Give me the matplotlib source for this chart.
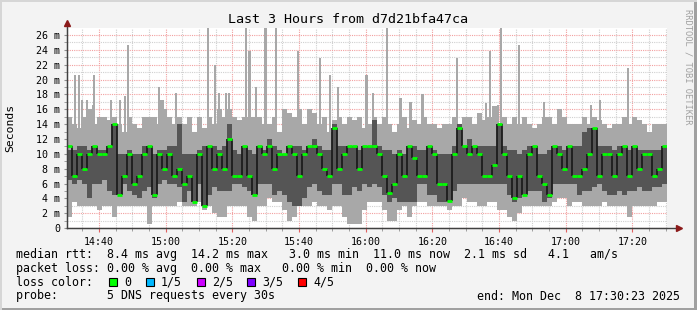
#SmokePing style latency graph

import matplotlib.pyplot as plt
from matplotlib.patches import Rectangle
import numpy as np

plt.rcParams['font.family'] = ['DejaVu Sans Mono']

#Data (ms), one value per 90 s step

hi = [15, 14, 13.5, 15, 16, 14, 15, 15, 14.5, 15, 14, 13, 15, 14, 13.5, 15, 15, 15, 14, 16,
      15, 14, 15, 14, 15, 13, 15, 13.5, 15, 14, 16, 15, 16, 15, 14.5, 15, 15, 15, 15, 14,
      14, 15, 13, 16, 15.5, 15, 16, 14, 16, 15.5, 14, 15, 13, 14.5, 15, 14, 15, 14.5, 15, 13.5,
      14, 15, 14, 15, 14, 13, 14, 15, 13.5, 14.5, 14, 15, 14, 14, 13.5, 14, 14, 15, 14, 15,
      15, 14, 15.5, 14.5, 15, 16.5, 14, 15, 14, 15, 14, 15, 14, 13.5, 14, 15, 15, 14, 16, 15,
      14, 14, 14, 15, 14, 15, 14.5, 14, 13.5, 14, 14, 15, 14, 15, 14.5, 14, 13, 14, 14, 14]
lo = [1.5, 3.5, 3, 3, 3, 3, 2.5, 3, 3, 1.5, 3, 3, 3, 3, 3, 3, 0.5, 3, 3, 3,
      3, 3, 3.5, 3, 3, 3, 3.5, 2.5, 3, 2, 1.5, 1.5, 3, 3, 3, 3, 1.5, 1, 3, 3,
      4, 3.5, 3.5, 2.5, 1, 1.5, 3, 3, 3, 3.5, 3, 3, 2.5, 3, 3, 1.5, 0.5, 0.5, 0.5, 2.5,
      3.5, 3.5, 3.5, 2.5, 1, 1, 2.5, 3, 1.5, 3, 3.5, 3.5, 3, 3, 3, 3, 2.5, 3, 3, 4,
      3.5, 3.5, 3, 3, 3.5, 3.5, 2.5, 2.5, 1.5, 1, 2, 3, 3, 3, 3, 3, 3, 3.5, 4, 4,
      3, 3.5, 3.5, 3, 3, 3, 3, 3.5, 3, 3, 3, 3, 1.5, 3, 3, 3, 3, 3, 3.5, 3.5]
q1 = [6.5, 6, 6.5, 6, 4, 6, 6, 6.5, 5, 4.5, 4.5, 6, 5, 4.5, 4, 5, 5.5, 4, 6, 6.5,
      6, 6, 5.5, 3.5, 5, 3.5, 6, 3, 4.5, 5.5, 5, 5, 5, 6, 6, 5.5, 5, 4.5, 6, 6,
      6, 4.5, 5, 4.5, 3.5, 3, 3, 4, 5.5, 6, 5, 4.5, 4.5, 6, 6, 4.5, 4.5, 5.5, 5, 6,
      5.5, 6, 5.5, 4.5, 3.5, 4, 3.5, 3.5, 3.5, 3.5, 6, 6, 4.5, 4.5, 3.5, 3.5, 3.5, 5, 6, 6,
      6, 6, 6, 6, 6, 6, 6, 6, 4.5, 3.5, 4, 4.5, 5, 5, 5, 3.5, 4, 6, 6, 6,
      6, 6, 4.5, 5, 5, 5.5, 6, 5, 4.5, 4.5, 5, 4.5, 5, 5, 5.5, 5, 5, 5.5, 5.5, 6]
q3 = [10.5, 10.5, 11, 11, 10.5, 11, 10.5, 10.5, 11, 14, 10, 10, 10.5, 10, 10, 11, 11, 10, 10.5, 10.5,
      11, 11, 14, 10, 10, 10, 10.5, 11, 11, 11, 10.5, 11, 14, 10.5, 10, 11, 10.5, 10, 11, 10.5,
      12, 11, 10.5, 10, 11, 11, 11, 10.5, 11, 12, 11, 10.5, 10.5, 14, 11, 11, 11, 11, 10.5, 11,
      11, 14.5, 11, 10.5, 10.5, 10, 10.5, 10, 11, 11, 10.5, 10.5, 11, 10.5, 10, 10, 10, 11, 14, 11,
      12, 11, 11, 11, 11, 11, 14, 11, 10.5, 10.5, 10, 10.5, 11, 11, 10, 10, 10.5, 11, 11, 10.5,
      11, 11, 11, 13, 13.5, 13.5, 11, 11, 11, 10.5, 11, 11, 10.5, 11, 10.5, 10.5, 10.5, 10.5, 10.5, 11]
med = [11, 7, 10, 8, 10, 11, 10, 10, 11, 14, 4.5, 7, 10, 6, 7, 10, 11, 4.5, 10, 8,
       10, 7, 8, 6, 7, 3.5, 10, 3, 11, 8, 10, 8, 12, 7, 7, 11, 7, 4.5, 11, 10,
       11, 8, 10, 10, 11, 10, 7, 10, 11, 11, 10, 8, 7, 13.5, 8, 10, 11, 11, 8, 11,
       11, 11, 10, 7, 4.8, 6, 10, 7, 11, 9.5, 7, 7, 11, 10, 6, 6, 3.7, 10, 13.5, 11,
       10, 11, 10, 7, 7, 8.5, 14, 10, 7, 4, 7, 4.5, 10, 11, 7, 6, 4.5, 11, 10, 8,
       11, 7, 7, 8, 10, 13.5, 7, 10, 10, 7, 10, 11, 7, 11, 8, 10, 10, 7, 8, 11]

#Single slow pings (minutes after 14:00, ms)
spike_t = [32.8, 34.0, 34.9, 36.4, 38.2, 38.5, 43.6, 46.3, 47.8, 48.7,
           58.0, 58.6, 59.2, 63.1, 72.7, 74.8, 76.0, 78.1, 79.0, 84.1, 85.1, 87.1,
           89.9, 93.1, 99.7, 106.3, 109.3, 111.7, 120.2, 122.2, 126.4, 130.5, 133.4, 137.0,
           147.4, 156.1, 157.3, 159.7, 160.6, 166.0, 173.5, 187.6, 190.3, 198.7]
spike_v = [20.6, 20.6, 17.3, 17.3, 16.6, 20.6, 17.3, 17.3, 17.8, 24.6,
           19.0, 17.3, 17.3, 18.2, 27, 22, 18.2, 18.2, 18.2, 27, 23.8, 19,
           27, 27, 23.8, 22.9, 20.6, 19, 20.6, 18.2, 27, 17.5, 17, 18,
           22.9, 16.8, 23.8, 16.6, 27, 24.6, 17, 16.6, 17.3, 21.5]

xticks = [40, 60, 80, 100, 120, 140, 160, 180, 200]   # minutes after 14:00
xlabels = ['14:40', '15:00', '15:20', '15:40', '16:00', '16:20', '16:40', '17:00', '17:20']
loss_names = ['0', '1/5', '2/5', '3/5', '4/5']
loss_colors = ['#00ff00', '#00b8ff', '#cc00ff', '#7e00ff', '#ff0000']

hi, lo, q1, q3, med = [np.array(a, float) for a in (hi, lo, q1, q3, med)]
step = 1.5
t0 = 30 + 23/60.
left = t0 + step*np.arange(len(med))

fig = plt.figure(figsize=(6.97, 3.10), dpi=100, facecolor='#f3f3f3')
ax = fig.add_axes([67/697, 1-228.2/310, 600/697, 200.2/310])
ax.set_facecolor('white')

#Smoke
ax.bar(spike_t, np.array(spike_v)-10, bottom=10, width=0.8, color='#a8a8a8', lw=0, zorder=2)
ax.bar(left, hi-lo, bottom=lo, width=step, align='edge', color='#a8a8a8', lw=0, zorder=2)
ax.bar(left, q3-q1, bottom=q1, width=step, align='edge', color='#555555', lw=0, zorder=3)
ax.vlines(left[1:], np.minimum(med[:-1], med[1:]), np.maximum(med[:-1], med[1:]),
          color='#1c1c1c', lw=1.3, zorder=4)
ax.hlines(med, left, left+step, color='#00ff00', lw=2.0, zorder=5)

ax.set_xlim(t0, t0+180)
ax.set_ylim(0, 26.95)

#Grid
ax.set_xticks(xticks)
ax.set_xticklabels(xlabels, fontsize=7.2)
ax.set_xticks(np.arange(35, 211, 5), minor=True)
ax.set_yticks(np.arange(0, 27, 2))
ax.set_yticklabels(['0'] + ['%d m' % v for v in range(2, 27, 2)], fontsize=7.2)
ax.set_yticks(np.arange(0, 27, 1), minor=True)
ax.grid(which='minor', color='#d0d0d0', ls=(0, (1, 1)), lw=0.8)
ax.grid(which='major', color='#f2a0a0', ls=(0, (1, 1)), lw=0.8)
ax.set_axisbelow(True)
ax.tick_params(which='both', direction='out', length=2, color='#909090', pad=3)
ax.tick_params(axis='x', which='major', colors='#000000', color='#e06060', length=3)

for s in ['top', 'right']:
    ax.spines[s].set_visible(False)
for s in ['left', 'bottom']:
    ax.spines[s].set_color('#404040')

#Axis arrows
ax.plot([0, 0], [0, 1.03], transform=ax.transAxes, clip_on=False, color='#404040', lw=1, zorder=6)
ax.plot([0, 1.022], [0, 0], transform=ax.transAxes, clip_on=False, color='#404040', lw=1, zorder=6)
ax.plot(0, 1.025, marker='^', ms=4.5, color='#8b1a1a', transform=ax.transAxes, clip_on=False, zorder=7)
ax.plot(1.02, 0, marker='>', ms=4.5, color='#8b1a1a', transform=ax.transAxes, clip_on=False, zorder=7)

#Texts
fig.text(348/697, 1-19.5/310, 'Last 3 Hours from d7d21bfa47ca', ha='center', va='center', fontsize=9.6)
fig.text(10/697, 1-128/310, 'Seconds', rotation=90, ha='center', va='center', fontsize=8.2)
fig.text(688/697, 1-67/310, 'RRDTOOL / TOBI OETIKER', rotation=270, ha='center', va='center',
         fontsize=6.3, color='#a0a0a0')

fs = 8.4
x0 = 16/697
fig.text(x0, 1-254.3/310, 'median rtt:  8.4 ms avg  14.2 ms max   3.0 ms min  11.0 ms now  2.1 ms sd   4.1   am/s',
         va='center', fontsize=fs)
fig.text(x0, 1-268.3/310, 'packet loss: 0.00 % avg  0.00 % max   0.00 % min  0.00 % now',
         va='center', fontsize=fs)
fig.text(x0, 1-282.3/310, 'loss color:', va='center', fontsize=fs)
box_x = [109, 146, 197, 247, 298]
for bx, name, c in zip(box_x, loss_names, loss_colors):
    fig.add_artist(Rectangle((bx/697, 1-286/310), 8/697, 8/310, transform=fig.transFigure,
                             facecolor=c, edgecolor='black', lw=0.8))
    fig.text((bx+15)/697, 1-282.3/310, name, va='center', fontsize=fs)
fig.text(x0, 1-296/310, 'probe:       5 DNS requests every 30s', va='center', fontsize=fs)
fig.text(680/697, 1-296/310, 'end: Mon Dec  8 17:30:23 2025', ha='right', va='center', fontsize=fs)

#Frame
fig.add_artist(Rectangle((0, 0), 1, 2/310, transform=fig.transFigure, color='#a0a0a0', lw=0))
fig.add_artist(Rectangle((1-3/697, 0), 3/697, 1, transform=fig.transFigure, color='#a0a0a0', lw=0))
fig.add_artist(Rectangle((0, 1-2/310), 1, 2/310, transform=fig.transFigure, color='#d6d6d6', lw=0))
fig.add_artist(Rectangle((0, 0), 2/697, 1, transform=fig.transFigure, color='#d6d6d6', lw=0))

plt.savefig('out.png', dpi=100, facecolor=fig.get_facecolor())
plt.close()
